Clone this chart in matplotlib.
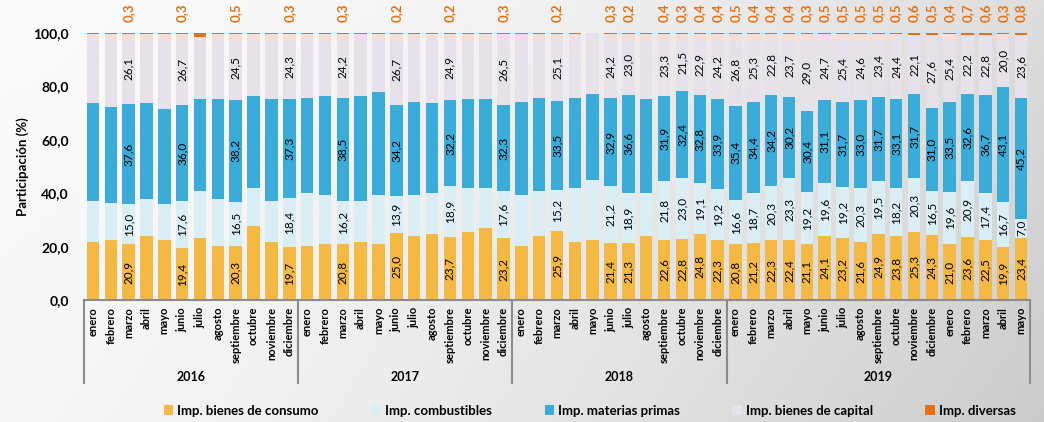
import numpy as np
import matplotlib.pyplot as plt
from matplotlib.transforms import blended_transform_factory

plt.rcParams['font.family'] = ['Lato', 'DejaVu Sans']

month_names = ['enero', 'febrero', 'marzo', 'abril', 'mayo', 'junio', 'julio',
               'agosto', 'septiembre', 'octubre', 'noviembre', 'diciembre']
months = month_names * 4 + month_names[:5]
years = ['2016', '2017', '2018', '2019']
year_sizes = [12, 12, 12, 17]

consumo = [21.8, 22.6, 20.9, 23.9, 22.6, 19.4, 23.3, 20.2, 20.3, 27.7, 21.8, 19.7,
           20.2, 20.9, 20.8, 21.7, 20.9, 25.0, 23.9, 24.7, 23.7, 25.4, 26.9, 23.2,
           20.2, 23.9, 25.9, 21.7, 22.4, 21.4, 21.3, 23.9, 22.6, 22.8, 24.8, 22.3,
           20.8, 21.2, 22.3, 22.4, 21.1, 24.1, 23.2, 21.6, 24.9, 23.8, 25.3, 24.3,
           21.0, 23.6, 22.5, 19.9, 23.4]
combustibles = [15.4, 13.9, 15.0, 14.0, 13.2, 17.6, 17.5, 17.7, 16.5, 14.4, 15.4, 18.4,
                19.8, 18.4, 16.2, 15.5, 18.4, 13.9, 15.4, 15.3, 18.9, 16.7, 15.2, 17.6,
                19.1, 16.9, 15.2, 20.4, 22.7, 21.2, 18.9, 16.1, 21.8, 23.0, 19.1, 19.2,
                16.6, 18.7, 20.3, 23.3, 19.2, 19.6, 19.2, 20.3, 19.5, 18.2, 20.3, 16.5,
                19.6, 20.9, 17.4, 16.7, 7.0]
materias = [36.4, 35.6, 37.6, 35.7, 35.6, 36.0, 34.3, 37.2, 38.2, 34.3, 37.9, 37.3,
            35.7, 37.1, 38.5, 39.2, 38.6, 34.2, 35.0, 33.6, 32.2, 33.0, 33.0, 32.3,
            35.0, 34.9, 33.5, 33.6, 32.1, 32.9, 36.6, 35.1, 31.9, 32.4, 32.8, 33.9,
            35.4, 34.4, 34.2, 30.2, 30.4, 31.1, 31.7, 33.0, 31.7, 33.1, 31.7, 31.0,
            33.5, 32.6, 36.7, 43.1, 45.2]
capital = [26.1, 27.6, 26.1, 26.1, 28.3, 26.7, 23.4, 24.6, 24.5, 23.3, 24.6, 24.3,
           24.0, 23.3, 24.2, 23.3, 21.8, 26.7, 25.4, 26.1, 24.9, 24.6, 24.6, 26.5,
           25.4, 24.0, 25.1, 24.0, 22.7, 24.2, 23.0, 24.6, 23.3, 21.5, 22.9, 24.2,
           26.8, 25.3, 22.8, 23.7, 29.0, 24.7, 25.4, 24.6, 23.4, 24.4, 22.1, 27.6,
           25.4, 22.2, 22.8, 20.0, 23.6]
diversas = [0.3, 0.3, 0.3, 0.3, 0.3, 0.3, 1.5, 0.3, 0.5, 0.3, 0.3, 0.3,
            0.3, 0.3, 0.3, 0.3, 0.3, 0.2, 0.3, 0.3, 0.2, 0.3, 0.3, 0.3,
            0.3, 0.3, 0.2, 0.3, 0.1, 0.3, 0.2, 0.3, 0.4, 0.3, 0.4, 0.4,
            0.5, 0.4, 0.4, 0.4, 0.3, 0.5, 0.5, 0.5, 0.5, 0.5, 0.6, 0.5,
            0.4, 0.7, 0.6, 0.3, 0.8]

# bars that carry data labels in the original
labeled = [2, 5, 8, 11, 14, 17, 20, 23, 26, 29, 30, 32, 33, 34, 35] + list(range(36, 53))

series = [
    ('Imp. bienes de consumo', consumo, '#F5B942'),
    ('Imp. combustibles', combustibles, '#DAEEF5'),
    ('Imp. materias primas', materias, '#3AACD9'),
    ('Imp. bienes de capital', capital, '#E7E1EC'),
    ('Imp. diversas', diversas, '#E8700F'),
]

def fmt(v):
    return f'{v:.1f}'.replace('.', ',')

fig = plt.figure(figsize=(10.44, 4.22), dpi=100)

# soft grey background gradient
bg = fig.add_axes([0, 0, 1, 1], zorder=-10)
gx, gy = np.meshgrid(np.linspace(0, 1, 300), np.linspace(0, 1, 150))
shade = 0.985 - 0.12 * gx ** 1.6 - 0.05 * gy * gx - 0.02 * gy
bg.imshow(shade, cmap='gray', vmin=0, vmax=1, aspect='auto', extent=[0, 1, 0, 1])
bg.axis('off')

ax = fig.add_axes([84 / 1044, 1 - 300 / 422, 946 / 1044, 267 / 422])
ax.patch.set_alpha(0)

x = np.arange(len(months))
bottom = np.zeros(len(months))
for name, vals, color in series:
    vals = np.array(vals)
    ax.bar(x, vals, 0.7, bottom=bottom, color=color, label=name, linewidth=0)
    for i in labeled:
        if name == 'Imp. diversas':
            ax.text(x[i], 107.5, fmt(vals[i]), rotation=90, ha='center', va='center',
                    fontsize=9.5, fontweight='bold', color='#E8700F', clip_on=False)
        else:
            ax.text(x[i], bottom[i] + vals[i] / 2, fmt(vals[i]), rotation=90,
                    ha='center', va='center', fontsize=8.5, color='black')
    bottom += vals

ax.set_xlim(-0.5, len(months) - 0.5)
ax.set_ylim(0, 100)
ax.set_yticks(np.arange(0, 101, 20))
ax.set_yticklabels([fmt(v) for v in np.arange(0, 101, 20)], fontsize=10, fontweight='bold')
ax.set_xticks(x)
ax.set_xticklabels(months, rotation=90, fontsize=8, fontweight='bold')
ax.tick_params(axis='both', length=0)
ax.tick_params(axis='x', pad=5)
ax.tick_params(axis='y', pad=11)
ax.set_ylabel('Participación (%)', fontsize=9.5, fontweight='bold', labelpad=3)

for side in ['top', 'right', 'left']:
    ax.spines[side].set_visible(False)
ax.spines['bottom'].set_color('#8c8c8c')
ax.spines['bottom'].set_linewidth(1.5)

# year groups under the month labels
trans = blended_transform_factory(ax.transData, ax.transAxes)
edges = np.concatenate([[0], np.cumsum(year_sizes)]) - 0.5
for e in edges:
    ax.plot([e, e], [0, -0.31], transform=trans, color='#8c8c8c', lw=1.5,
            clip_on=False)
for yr, a, b in zip(years, edges[:-1], edges[1:]):
    ax.text((a + b) / 2, -0.288, yr, transform=trans, ha='center', va='center',
            fontsize=9, fontweight='bold')

fig.legend(loc='center', bbox_to_anchor=(0.565, 0.027), ncol=5, frameon=False,
           handlelength=0.7, handleheight=0.7, handletextpad=0.3, columnspacing=4.0,
           prop={'weight': 'bold', 'size': 9.5})

fig.savefig('out.png', dpi=100)
